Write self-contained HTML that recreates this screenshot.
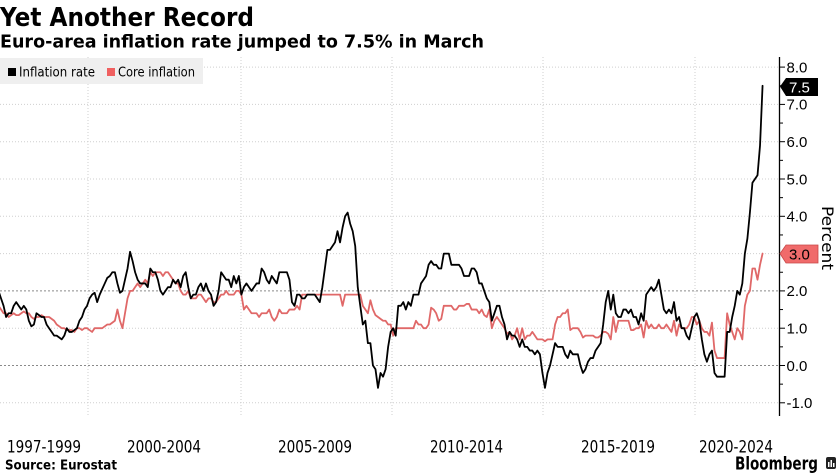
<!DOCTYPE html>
<html><head><meta charset="utf-8"><style>
html,body{margin:0;padding:0;background:#fff;}
svg{display:block;}
</style></head><body>
<svg width="840" height="473" viewBox="0 0 840 473" xmlns="http://www.w3.org/2000/svg">
<rect width="840" height="473" fill="#fff"/>
<!-- Title -->
<text x="0" y="26" font-family="DejaVu Sans, Liberation Sans, sans-serif" font-weight="bold" font-size="26" textLength="254" lengthAdjust="spacingAndGlyphs" fill="#000">Yet Another Record</text>
<text x="0" y="47.5" font-family="DejaVu Sans, Liberation Sans, sans-serif" font-weight="bold" font-size="18" textLength="484" lengthAdjust="spacingAndGlyphs" fill="#000">Euro-area inflation rate jumped to 7.5% in March</text>

<!-- horizontal gridlines -->
<g stroke-width="1" fill="none">
<line x1="0" x2="779" y1="67.1" y2="67.1" stroke="#cfcfcf" stroke-dasharray="1,2"/>
<line x1="0" x2="779" y1="104.4" y2="104.4" stroke="#cfcfcf" stroke-dasharray="1,2"/>
<line x1="0" x2="779" y1="141.7" y2="141.7" stroke="#cfcfcf" stroke-dasharray="1,2"/>
<line x1="0" x2="779" y1="179" y2="179" stroke="#cfcfcf" stroke-dasharray="1,2"/>
<line x1="0" x2="779" y1="216.3" y2="216.3" stroke="#cfcfcf" stroke-dasharray="1,2"/>
<line x1="0" x2="779" y1="253.6" y2="253.6" stroke="#cfcfcf" stroke-dasharray="1,2"/>
<line x1="0" x2="779" y1="290.9" y2="290.9" stroke="#8a8a8a" stroke-dasharray="2,2"/>
<line x1="0" x2="779" y1="328.2" y2="328.2" stroke="#cfcfcf" stroke-dasharray="1,2"/>
<line x1="0" x2="779" y1="365.5" y2="365.5" stroke="#8a8a8a" stroke-dasharray="2,2"/>
<line x1="0" x2="779" y1="402.8" y2="402.8" stroke="#cfcfcf" stroke-dasharray="1,2"/>
<!-- vertical gridlines -->
<line x1="88" x2="88" y1="57" y2="415" stroke="#cfcfcf" stroke-dasharray="1,2"/>
<line x1="241" x2="241" y1="57" y2="415" stroke="#cfcfcf" stroke-dasharray="1,2"/>
<line x1="392" x2="392" y1="57" y2="415" stroke="#cfcfcf" stroke-dasharray="1,2"/>
<line x1="543" x2="543" y1="57" y2="415" stroke="#cfcfcf" stroke-dasharray="1,2"/>
<line x1="695" x2="695" y1="57" y2="415" stroke="#cfcfcf" stroke-dasharray="1,2"/>
</g>

<!-- Legend -->
<rect x="0" y="58" width="203" height="26" fill="#efefef"/>
<rect x="8" y="68" width="8" height="8" fill="#000"/>
<text x="19" y="76.5" font-family="DejaVu Sans, Liberation Sans, sans-serif" font-size="13" textLength="76" lengthAdjust="spacingAndGlyphs" fill="#000">Inflation rate</text>
<rect x="107" y="68" width="8" height="8" fill="#f06060"/>
<text x="118" y="76.5" font-family="DejaVu Sans, Liberation Sans, sans-serif" font-size="13" textLength="77" lengthAdjust="spacingAndGlyphs" fill="#000">Core inflation</text>

<!-- Series -->
<g transform="translate(-1.5,365.5) scale(2.53,-37.3)" fill="none" stroke-linejoin="round" stroke-linecap="round">
<polyline vector-effect="non-scaling-stroke" stroke="#e06868" stroke-width="1.8" points="0,1.6 1,1.5 2,1.4 3,1.4 4,1.3 5,1.35 6,1.4 7,1.35 8,1.35 9,1.4 10,1.45 11,1.4 12,1.4 13,1.3 14,1.25 15,1.3 16,1.3 17,1.35 18,1.3 19,1.3 20,1.3 21,1.25 22,1.2 23,1.1 24,1.05 25,1 26,1 27,0.95 28,0.95 29,0.95 30,0.9 31,1 32,1 33,0.95 34,1 35,1 36,0.95 37,0.9 38,1 39,1 40,1 41,1 42,1.05 43,1.1 44,1.1 45,1.15 46,1.2 47,1.5 48,1.2 49,1 50,1.4 51,1.8 52,2 53,2 54,2.1 55,2.2 56,2.1 57,2.2 58,2.3 59,2.2 60,2.5 61,2.4 62,2.5 63,2.5 64,2.5 65,2.4 66,2.5 67,2.5 68,2.4 69,2.3 70,2.2 71,2.2 72,2 73,1.9 74,1.9 75,2 76,1.8 77,1.8 78,1.8 79,1.9 80,1.9 81,1.8 82,1.7 83,1.8 84,1.8 85,1.7 86,1.7 87,1.8 88,1.9 89,1.9 90,2 91,1.9 92,1.9 93,1.9 94,2 95,2 96,1.9 97,1.5 98,1.6 99,1.5 100,1.4 101,1.4 102,1.4 103,1.3 104,1.4 105,1.4 106,1.4 107,1.5 108,1.3 109,1.2 110,1.3 111,1.5 112,1.4 113,1.4 114,1.4 115,1.5 116,1.5 117,1.5 118,1.6 119,1.5 120,1.9 121,1.9 122,1.9 123,1.9 124,1.9 125,1.9 126,1.9 127,1.9 128,1.9 129,1.9 130,1.9 131,1.9 132,1.9 133,1.9 134,1.9 135,1.9 136,1.6 137,1.9 138,1.9 139,1.9 140,1.9 141,1.9 142,1.9 143,1.9 144,1.6 145,1.5 146,1.4 147,1.75 148,1.5 149,1.35 150,1.3 151,1.25 152,1.2 153,1.2 154,1.1 155,1.1 156,0.8 157,1 158,1 159,1 160,1 161,1 162,1 163,1 164,1 165,1.2 166,1.1 167,1.1 168,1 169,1 170,1.1 171,1.55 172,1.5 173,1.4 174,1.2 175,1.25 176,1.6 177,1.6 178,1.6 179,1.6 180,1.5 181,1.5 182,1.6 183,1.6 184,1.6 185,1.65 186,1.65 187,1.5 188,1.5 189,1.5 190,1.4 191,1.5 192,1.35 193,1.3 194,1.5 195,1 196,1.2 197,1.3 198,1.2 199,1.1 200,1 201,0.85 202,0.9 203,0.7 204,0.8 205,1 206,0.7 207,1 208,0.7 209,0.8 210,0.8 211,0.9 212,0.8 213,0.7 214,0.7 215,0.7 216,0.65 217,0.7 218,0.7 219,0.7 220,1.1 221,1.3 222,1.3 223,1.4 224,1.4 225,1.5 226,0.95 227,1 228,1 229,1 230,0.9 231,0.75 232,0.8 233,0.8 234,0.8 235,0.8 236,0.75 237,0.75 238,0.8 239,0.9 240,0.9 241,0.85 242,0.7 243,1.3 244,0.9 245,1.2 246,1.2 247,1.2 248,1.2 249,1.2 250,0.95 251,0.95 252,1 253,1 254,1.1 255,0.75 256,1.2 257,1 258,1.1 259,1 260,1 261,1.1 262,1 263,1 264,1.1 265,1 266,0.9 267,1.2 268,0.8 269,1.1 270,1 271,1 272,1 273,1.1 274,1.3 275,1.3 276,1.1 277,1.2 278,1 279,0.9 280,0.9 281,0.8 282,1.15 283,0.4 284,0.2 285,0.2 286,0.2 287,0.2 288,1.4 289,1.1 290,0.9 291,0.7 292,1 293,0.9 294,0.7 295,1.6 296,1.9 297,2 298,2.6 299,2.6 300,2.3 301,2.7 302,3"/>
<polyline vector-effect="non-scaling-stroke" stroke="#000" stroke-width="1.8" points="0,2 1,1.8 2,1.6 3,1.3 4,1.4 5,1.4 6,1.6 7,1.7 8,1.6 9,1.5 10,1.6 11,1.5 12,1.2 13,1.05 14,1.1 15,1.4 16,1.35 17,1.3 18,1.3 19,1.1 20,1 21,0.9 22,0.8 23,0.8 24,0.75 25,0.7 26,0.8 27,1 28,0.9 29,0.9 30,0.95 31,1 32,1.2 33,1.3 34,1.5 35,1.6 36,1.8 37,1.9 38,1.95 39,1.7 40,1.9 41,2.05 42,2.2 43,2.35 44,2.4 45,2.5 46,2.5 47,2.2 48,1.95 49,2 50,2.3 51,2.6 52,3.05 53,2.8 54,2.5 55,2.3 56,2.2 57,2.2 58,2.2 59,2.1 60,2.6 61,2.5 62,2.5 63,2.3 64,2 65,1.9 66,2 67,2.1 68,2.1 69,2.3 70,2.2 71,2.3 72,2.1 73,2.4 74,2.5 75,2.1 76,1.8 77,1.9 78,1.9 79,2.1 80,2.2 81,2 82,2.2 83,2 84,1.9 85,1.6 86,1.7 87,2 88,2.5 89,2.4 90,2.3 91,2.3 92,2.1 93,2.4 94,2.2 95,2.4 96,1.9 97,2.1 98,2.2 99,2.1 100,2 101,2.1 102,2.2 103,2.2 104,2.6 105,2.5 106,2.3 107,2.2 108,2.4 109,2.3 110,2.2 111,2.5 112,2.5 113,2.5 114,2.5 115,2.3 116,1.7 117,1.6 118,1.9 119,1.9 120,1.8 121,1.8 122,1.9 123,1.9 124,1.9 125,1.9 126,1.8 127,1.7 128,2.1 129,2.6 130,3.1 131,3.1 132,3.2 133,3.3 134,3.6 135,3.3 136,3.7 137,4 138,4.1 139,3.8 140,3.6 141,3.2 142,2.1 143,1.6 144,1.1 145,1.2 146,0.6 147,0.6 148,0 149,-0.1 150,-0.6 151,-0.2 152,-0.3 153,-0.1 154,0.5 155,0.9 156,1 157,0.8 158,1.6 159,1.6 160,1.7 161,1.5 162,1.7 163,1.6 164,1.9 165,1.9 166,1.9 167,2.2 168,2.3 169,2.4 170,2.7 171,2.8 172,2.7 173,2.7 174,2.6 175,2.6 176,3 177,3 178,3 179,2.7 180,2.7 181,2.7 182,2.7 183,2.6 184,2.4 185,2.4 186,2.4 187,2.6 188,2.6 189,2.5 190,2.2 191,2.2 192,2 193,1.8 194,1.7 195,1.2 196,1.4 197,1.6 198,1.6 199,1.3 200,1.1 201,0.7 202,0.9 203,0.8 204,0.8 205,0.7 206,0.5 207,0.7 208,0.5 209,0.5 210,0.4 211,0.4 212,0.3 213,0.4 214,0.3 215,-0.2 216,-0.6 217,-0.2 218,0 219,0.3 220,0.6 221,0.5 222,0.5 223,0.5 224,0.3 225,0.2 226,0.4 227,0.3 228,0.3 229,0.3 230,0 231,-0.2 232,-0.1 233,0.1 234,0.2 235,0.2 236,0.4 237,0.5 238,0.6 239,1.1 240,1.7 241,2 242,1.5 243,1.9 244,1.4 245,1.3 246,1.3 247,1.5 248,1.5 249,1.4 250,1.5 251,1.3 252,1.3 253,1.1 254,1.4 255,1.2 256,1.9 257,2 258,2.1 259,2 260,2.1 261,2.3 262,1.9 263,1.5 264,1.4 265,1.5 266,1.4 267,1.7 268,1.2 269,1.3 270,1 271,1 272,0.8 273,0.7 274,1 275,1.3 276,1.4 277,1.2 278,0.7 279,0.3 280,0.1 281,0.3 282,0.4 283,-0.2 284,-0.3 285,-0.3 286,-0.3 287,-0.3 288,0.9 289,0.9 290,1.3 291,1.6 292,2 293,1.9 294,2.2 295,3 296,3.4 297,4.1 298,4.9 299,5 300,5.1 301,5.9 302,7.5"/>
</g>

<!-- Y axis -->
<line x1="779.5" x2="779.5" y1="57" y2="416" stroke="#000" stroke-width="1.3"/>
<g stroke="#000" stroke-width="1">
<line x1="780" x2="785" y1="67.1" y2="67.1"/>
<line x1="780" x2="785" y1="104.4" y2="104.4"/>
<line x1="780" x2="785" y1="141.7" y2="141.7"/>
<line x1="780" x2="785" y1="179" y2="179"/>
<line x1="780" x2="785" y1="216.3" y2="216.3"/>
<line x1="780" x2="785" y1="253.6" y2="253.6"/>
<line x1="780" x2="785" y1="290.9" y2="290.9"/>
<line x1="780" x2="785" y1="328.2" y2="328.2"/>
<line x1="780" x2="785" y1="365.5" y2="365.5"/>
<line x1="780" x2="785" y1="402.8" y2="402.8"/>
<line x1="780" x2="783" y1="85.75" y2="85.75"/>
<line x1="780" x2="783" y1="123.05" y2="123.05"/>
<line x1="780" x2="783" y1="160.35" y2="160.35"/>
<line x1="780" x2="783" y1="197.65" y2="197.65"/>
<line x1="780" x2="783" y1="234.95" y2="234.95"/>
<line x1="780" x2="783" y1="272.25" y2="272.25"/>
<line x1="780" x2="783" y1="309.55" y2="309.55"/>
<line x1="780" x2="783" y1="346.85" y2="346.85"/>
<line x1="780" x2="783" y1="384.15" y2="384.15"/>
</g>
<g font-family="Liberation Sans, DejaVu Sans, sans-serif" font-size="15" fill="#000">
<text x="786.5" y="72.4">8.0</text>
<text x="786.5" y="109.7">7.0</text>
<text x="786.5" y="147">6.0</text>
<text x="786.5" y="184.3">5.0</text>
<text x="786.5" y="221.6">4.0</text>
<text x="786.5" y="296.2">2.0</text>
<text x="786.5" y="333.5">1.0</text>
<text x="786.5" y="370.8">0.0</text>
<text x="786.5" y="408.1">-1.0</text>
</g>
<!-- value tags -->
<polygon points="780,86.5 786,78 818,78 818,96 786,96" fill="#000"/>
<text x="789" y="92.5" font-family="Liberation Sans, DejaVu Sans, sans-serif" font-size="15" fill="#fff">7.5</text>
<polygon points="780,253.6 786,245 818,245 818,263 786,263" fill="#f06b6b" stroke="#c84848" stroke-width="0.8"/>
<text x="789" y="259.5" font-family="Liberation Sans, DejaVu Sans, sans-serif" font-size="15" fill="#000">3.0</text>
<!-- Percent -->
<text transform="translate(822,238) rotate(90)" text-anchor="middle" font-family="DejaVu Sans, Liberation Sans, sans-serif" font-size="16" textLength="64" lengthAdjust="spacingAndGlyphs" fill="#000">Percent</text>

<!-- X labels -->
<g font-family="DejaVu Sans, Liberation Sans, sans-serif" font-size="16.5" fill="#000">
<text x="7" y="452.5" textLength="74" lengthAdjust="spacingAndGlyphs">1997-1999</text>
<text x="127" y="452.5" textLength="74" lengthAdjust="spacingAndGlyphs">2000-2004</text>
<text x="278" y="452.5" textLength="74" lengthAdjust="spacingAndGlyphs">2005-2009</text>
<text x="430" y="452.5" textLength="73" lengthAdjust="spacingAndGlyphs">2010-2014</text>
<text x="581" y="452.5" textLength="74" lengthAdjust="spacingAndGlyphs">2015-2019</text>
<text x="699" y="452.5" textLength="74" lengthAdjust="spacingAndGlyphs">2020-2024</text>
</g>
<!-- footer -->
<text x="5" y="469.3" font-family="DejaVu Sans, Liberation Sans, sans-serif" font-weight="bold" font-size="13" textLength="112" lengthAdjust="spacingAndGlyphs" fill="#000">Source: Eurostat</text>
<text x="735" y="469.3" font-family="DejaVu Sans, Liberation Sans, sans-serif" font-weight="bold" font-size="18" textLength="83" lengthAdjust="spacingAndGlyphs" fill="#000">Bloomberg</text>
<rect x="826" y="457" width="10" height="12" rx="2" fill="#222"/>
<rect x="828" y="462" width="1.5" height="5" fill="#fff"/>
<rect x="830.5" y="460" width="1.5" height="7" fill="#fff"/>
<rect x="833" y="463" width="1.5" height="4" fill="#fff"/>
</svg>
</body></html>
